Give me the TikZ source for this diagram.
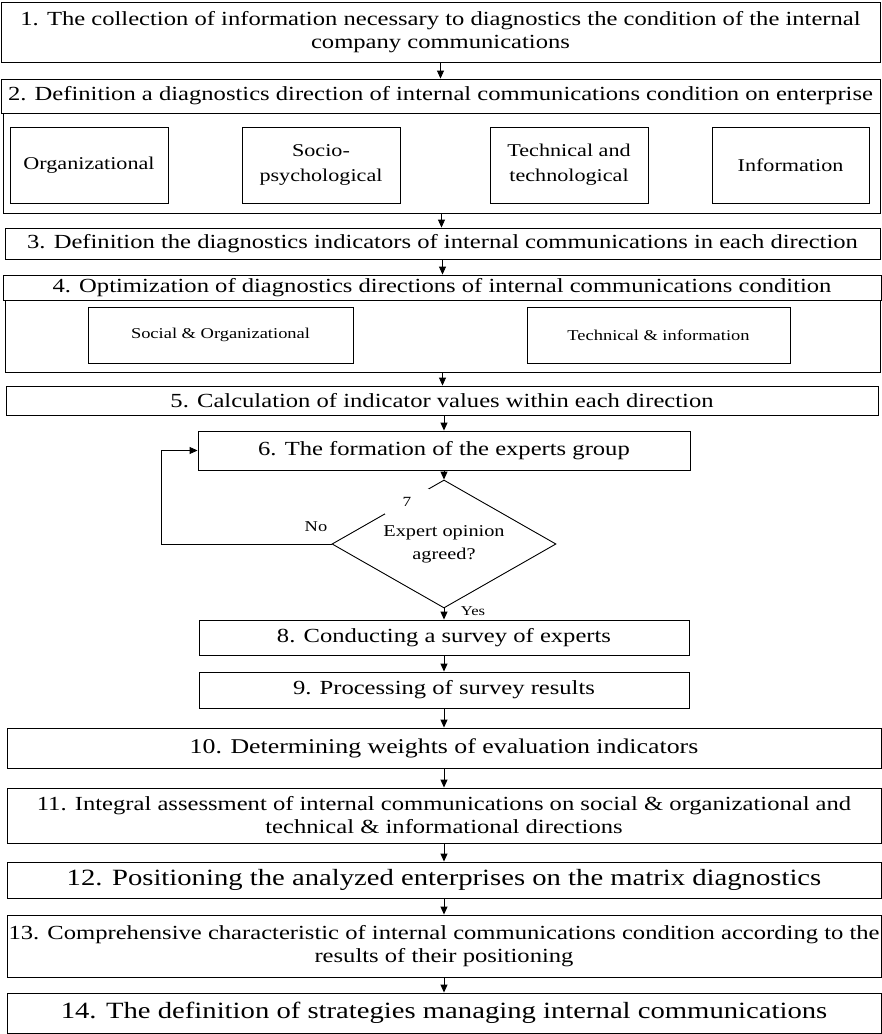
\documentclass[tikz,border=0pt]{standalone}
\usepackage{fontspec}
\setmainfont{Liberation Serif}[FakeStretch=1.23]
\usetikzlibrary{arrows.meta,shapes.geometric}
\begin{document}
\begin{tikzpicture}[x=1pt,y=-1pt,
  every node/.style={inner sep=0pt, align=center},
  box/.style={draw, line width=0.9pt, font=\fontsize{20}{23}\selectfont},
  bigbox/.style={box, font=\fontsize{23.3}{26}\selectfont},
  ibox/.style={draw, line width=0.9pt, font=\fontsize{18}{25}\selectfont},
  sbox/.style={draw, line width=0.9pt, font=\fontsize{15}{18}\selectfont},
  cont/.style={draw, line width=0.9pt},
  arr/.style={draw, line width=0.9pt, -{Triangle[length=8pt,width=7pt]}},
  lbl/.style={font=\fontsize{15}{18}\selectfont}]
\fill[white] (0,0) rectangle (882,1034);
\useasboundingbox (0,0) rectangle (882,1034);
% 1
\node[box, minimum width=879pt, minimum height=60pt] (b1) at (440.5,32)
  {1. The collection of information necessary to diagnostics the condition of the internal\\company communications};
% 2
\node[cont, minimum width=877pt, minimum height=100pt] (c2) at (441.5,163) {};
\node[box, minimum width=879pt, minimum height=34pt] (b2) at (440.5,96)
  {2. Definition a diagnostics direction of internal communications condition on enterprise};
\node[ibox, minimum width=158pt, minimum height=76pt] (o1) at (89,165) {Organizational};
\node[ibox, minimum width=158pt, minimum height=76pt] (o2) at (321,165) {Socio-\\psychological};
\node[ibox, minimum width=158pt, minimum height=76pt] (o3) at (569,165) {Technical and\\technological};
\node[ibox, minimum width=157pt, minimum height=76pt] (o4) at (790.5,165) {Information};
% 3
\node[box, minimum width=875pt, minimum height=31pt] (b3) at (442.5,243.5)
  {3. Definition the diagnostics indicators of internal communications in each direction};
% 4
\node[cont, minimum width=875pt, minimum height=72pt] (c4) at (442.5,336) {};
\node[box, minimum width=878pt, minimum height=25pt] (b4) at (442,287.5)
  {4. Optimization of diagnostics directions of internal communications condition};
\node[sbox, minimum width=265pt, minimum height=56pt] (s1) at (220.5,335) {Social \& Organizational};
\node[sbox, minimum width=263pt, minimum height=56pt] (s2) at (658.5,335) {Technical \& information};
% 5
\node[box, minimum width=872pt, minimum height=29pt] (b5) at (442,400.5)
  {5. Calculation of indicator values within each direction};
% 6
\node[box, minimum width=492pt, minimum height=39pt] (b6) at (444,450.5)
  {6. The formation of the experts group};
% 7
\node[draw, diamond, line width=0.9pt, aspect=1.75, minimum width=224pt, minimum height=128pt,
  font=\fontsize{16.5}{23}\selectfont] (d7) at (444,544) {Expert opinion\\agreed?};
\node[fill=white, minimum width=44pt, minimum height=25pt, font=\fontsize{14}{16}\selectfont] (n7) at (407,501.5) {7};
\node[lbl] (no) at (316,527) {No};
\node[font=\fontsize{13.5}{16}\selectfont] (yes) at (473,611) {Yes};
% 8 - 14
\node[box, minimum width=490pt, minimum height=35pt] (b8) at (444,637.5)
  {8. Conducting a survey of experts};
\node[box, minimum width=490pt, minimum height=36pt] (b9) at (444,690)
  {9. Processing of survey results};
\node[box, minimum width=874pt, minimum height=40pt, font=\fontsize{21}{24}\selectfont] (b10) at (444,748)
  {10. Determining weights of evaluation indicators};
\node[box, minimum width=874pt, minimum height=55pt] (b11) at (444,815.5)
  {11. Integral assessment of internal communications on social \& organizational and\\technical \& informational directions};
\node[bigbox, minimum width=874pt, minimum height=36pt] (b12) at (444,880)
  {12. Positioning the analyzed enterprises on the matrix diagnostics};
\node[box, minimum width=874pt, minimum height=62pt] (b13) at (444,946)
  {13. Comprehensive characteristic of internal communications condition according to the\\results of their positioning};
\node[bigbox, minimum width=874pt, minimum height=40pt] (b14) at (444,1013)
  {14. The definition of strategies managing internal communications};
% connectors
\draw[arr] (b1.south) -- (b2.north);
\draw[arr] (c2.south) -- (c2.south |- b3.north);
\draw[arr] (b3.south) -- (b3.south |- b4.north);
\draw[arr] (c4.south) -- (c4.south |- b5.north);
\draw[arr] (b6.north |- b5.south) -- (b6.north);
\draw[arr] (b6.south) -- (d7.north);
\draw[arr] (d7.south) -- (b8.north);
\draw[arr] (b8.south) -- (b9.north);
\draw[arr] (b9.south) -- (b10.north);
\draw[arr] (b10.south) -- (b11.north);
\draw[arr] (b11.south) -- (b12.north);
\draw[arr] (b12.south) -- (b13.north);
\draw[arr] (b13.south) -- (b14.north);
\coordinate (lp) at (161,544);
\draw[arr] (d7.west) -- (lp) |- (b6.west);
\end{tikzpicture}
\end{document}
